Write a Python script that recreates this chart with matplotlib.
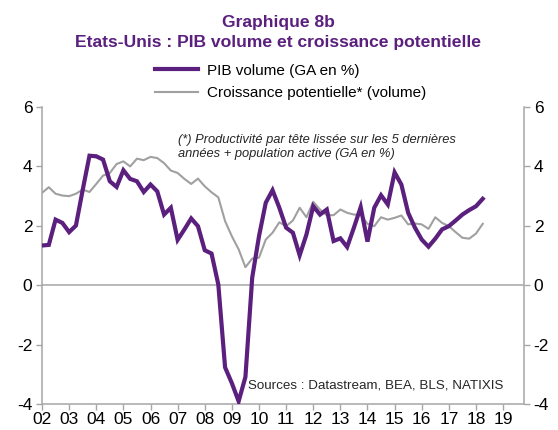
import numpy as np
import matplotlib
matplotlib.use("Agg")
import matplotlib.pyplot as plt

plt.rcParams['font.family'] = ['Liberation Sans', 'DejaVu Sans']

# quarterly, 2002Q1 -> 2018Q2 (year-on-year, %)
start_year = 2002
pib_volume = [
    1.33, 1.35, 2.20, 2.09,   # 2002
    1.78, 2.00, 3.20, 4.35,   # 2003
    4.33, 4.22, 3.49, 3.30,   # 2004
    3.86, 3.57, 3.49, 3.13,   # 2005
    3.38, 3.15, 2.37, 2.60,   # 2006
    1.52, 1.87, 2.24, 1.98,   # 2007
    1.17, 1.06, 0.02, -2.77,  # 2008
    -3.30, -3.91, -3.09, 0.25,  # 2009
    1.64, 2.77, 3.19, 2.60,   # 2010
    1.93, 1.76, 1.00, 1.70,   # 2011
    2.65, 2.37, 2.54, 1.48,   # 2012
    1.57, 1.28, 1.93, 2.62,   # 2013
    1.46, 2.60, 3.02, 2.71,   # 2014
    3.79, 3.38, 2.43, 1.93,   # 2015
    1.53, 1.29, 1.56, 1.87,   # 2016
    1.98, 2.17, 2.37, 2.52,   # 2017
    2.65, 2.90,               # 2018
]
croissance_potentielle = [
    3.10, 3.29, 3.07, 3.01,
    2.99, 3.07, 3.21, 3.13,
    3.40, 3.68, 3.77, 4.07,
    4.16, 3.99, 4.25, 4.20,
    4.31, 4.27, 4.10, 3.85,
    3.77, 3.57, 3.40, 3.58,
    3.32, 3.12, 2.95, 2.15,
    1.64, 1.20, 0.60, 0.89,
    0.92, 1.53, 1.76, 2.11,
    1.98, 2.17, 2.60, 2.28,
    2.80, 2.54, 2.35, 2.35,
    2.54, 2.43, 2.37, 2.37,
    2.06, 1.98, 2.28, 2.20,
    2.26, 2.34, 2.04, 2.07,
    2.04, 1.89, 2.28, 2.09,
    1.98, 1.78, 1.59, 1.56,
    1.73, 2.06,
]
year_labels = ['02', '03', '04', '05', '06', '07', '08', '09', '10',
               '11', '12', '13', '14', '15', '16', '17', '18', '19']
y_ticks = [-4, -2, 0, 2, 4, 6]

purple = '#5B1F7E'
grey = '#A0A0A0'
axis_col = '#A6A6A6'

x = start_year + np.arange(len(pib_volume)) / 4

fig = plt.figure(figsize=(5.58, 4.30), dpi=100)
ax = fig.add_axes([0.0753, 0.0605, 0.8637, 0.6915])

ax.axhline(0, color=axis_col, lw=1.1, zorder=1)
l1, = ax.plot(x, pib_volume, color=purple, lw=3.0, solid_joinstyle='miter', zorder=3,
              label='PIB volume (GA en %)')
l2, = ax.plot(x, croissance_potentielle, color=grey, lw=1.5, zorder=2,
              label='Croissance potentielle* (volume)')

ax.set_xlim(2002, 2019.77)
ax.set_ylim(-4, 6)
ax.set_xticks([2002 + i for i in range(len(year_labels))])
ax.set_xticklabels(year_labels, fontsize=12.5)
ax.set_yticks(y_ticks)
ax.set_yticklabels([str(v) for v in y_ticks], fontsize=12.5)
ax.tick_params(axis='both', direction='out', length=4, width=1, color=axis_col, pad=2)
ax.tick_params(axis='y', right=True, labelright=True, pad=3)

ax.spines['top'].set_visible(False)
for s in ['left', 'right', 'bottom']:
    ax.spines[s].set_color(axis_col)
    ax.spines[s].set_linewidth(1.1)

fig.text(0.499, 0.948, 'Graphique 8b', ha='center', va='center', fontsize=12.6,
         fontweight='bold', color=purple)
fig.text(0.499, 0.902, 'Etats-Unis : PIB volume et croissance potentielle', ha='center',
         va='center', fontsize=12.6, fontweight='bold', color=purple)

fig.legend(handles=[l1, l2], loc='upper left', bbox_to_anchor=(0.278, 0.852),
           frameon=False, fontsize=11, handlelength=2.8, handletextpad=0.6,
           labelspacing=0.55, borderpad=0, borderaxespad=0)

ax.text(0.283, 0.865, '(*) Productivité par tête lissée sur les 5 dernières\n'
        'années + population active (GA en %)', transform=ax.transAxes,
        fontsize=9.3, style='italic', color='#262626', va='center', ha='left',
        linespacing=1.2)
ax.text(0.957, 0.063, 'Sources : Datastream, BEA, BLS, NATIXIS', transform=ax.transAxes,
        fontsize=9.6, color='#262626', ha='right', va='center')

fig.savefig('out.png', dpi=100)
